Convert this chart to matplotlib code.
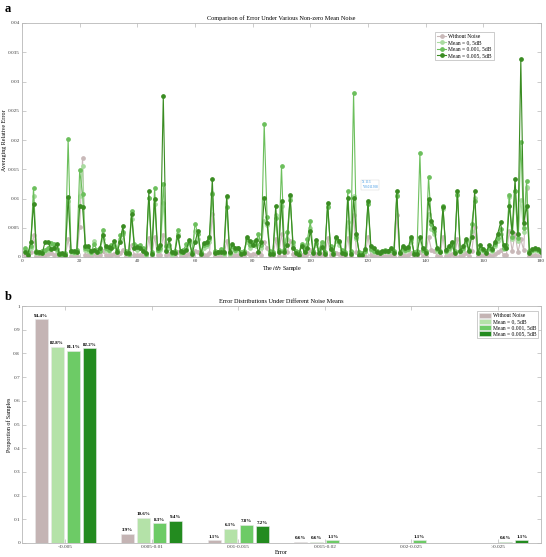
import numpy as np
import matplotlib.pyplot as plt

plt.rcParams['font.family'] = ['Liberation Serif', 'DejaVu Serif']

# ---------- panel a data (samples 1..180) ----------
sample = np.arange(1, 181)

err_clean = [
    0.0003, 0.0002, 0.0008, 0.0037, 0.0002, 0.0002, 0.0001, 0.0004, 0.0005, 0.0006,
    0.0004, 0.0005, 0.0001, 0.0001, 0.0001, 0.0030, 0.0002, 0.0002, 0.0002, 0.0052,
    0.0170, 0.0004, 0.0003, 0.0002, 0.0005, 0.0002, 0.0003, 0.0010, 0.0004, 0.0003,
    0.0004, 0.0005, 0.0002, 0.0006, 0.0012, 0.0002, 0.0001, 0.0020, 0.0004, 0.0003,
    0.0004, 0.0003, 0.0001, 0.0032, 0.0001, 0.0035, 0.0003, 0.0004, 0.0038, 0.0003,
    0.0005, 0.0001, 0.0002, 0.0008, 0.0002, 0.0002, 0.0004, 0.0005, 0.0001, 0.0010,
    0.0008, 0.0001, 0.0004, 0.0004, 0.0006, 0.0074, 0.0002, 0.0002, 0.0003, 0.0001,
    0.0028, 0.0001, 0.0004, 0.0003, 0.0003, 0.0001, 0.0002, 0.0006, 0.0004, 0.0005,
    0.0005, 0.0008, 0.0004, 0.0025, 0.0015, 0.0002, 0.0001, 0.0030, 0.0002, 0.0040,
    0.0002, 0.0008, 0.0028, 0.0005, 0.0002, 0.0001, 0.0004, 0.0002, 0.0005, 0.0012,
    0.0002, 0.0005, 0.0002, 0.0005, 0.0001, 0.0032, 0.0003, 0.0001, 0.0007, 0.0005,
    0.0002, 0.0001, 0.0033, 0.0002, 0.0072, 0.0008, 0.0001, 0.0001, 0.0002, 0.0035,
    0.0003, 0.0002, 0.0002, 0.0001, 0.0002, 0.0002, 0.0002, 0.0003, 0.0002, 0.0071,
    0.0001, 0.0003, 0.0002, 0.0003, 0.0006, 0.0001, 0.0002, 0.0008, 0.0002, 0.0002,
    0.0035, 0.0012, 0.0010, 0.0002, 0.0002, 0.0035, 0.0002, 0.0003, 0.0005, 0.0002,
    0.0030, 0.0002, 0.0003, 0.0006, 0.0002, 0.0010, 0.0051, 0.0001, 0.0004, 0.0002,
    0.0002, 0.0004, 0.0002, 0.0005, 0.0008, 0.0012, 0.0004, 0.0004, 0.0045, 0.0010,
    0.0040, 0.0008, 0.0030, 0.0012, 0.0118, 0.0002, 0.0002, 0.0003, 0.0002, 0.0002]

err_m0 = [
    0.0012, 0.0005, 0.0015, 0.0105, 0.0006, 0.0008, 0.0006, 0.0010, 0.0012, 0.0018,
    0.0015, 0.0010, 0.0004, 0.0005, 0.0003, 0.0095, 0.0008, 0.0006, 0.0008, 0.0105,
    0.0155, 0.0012, 0.0010, 0.0006, 0.0028, 0.0008, 0.0012, 0.0030, 0.0012, 0.0010,
    0.0015, 0.0022, 0.0008, 0.0030, 0.0040, 0.0006, 0.0004, 0.0065, 0.0016, 0.0012,
    0.0015, 0.0010, 0.0004, 0.0101, 0.0005, 0.0090, 0.0010, 0.0012, 0.0093, 0.0012,
    0.0015, 0.0004, 0.0008, 0.0040, 0.0006, 0.0008, 0.0016, 0.0022, 0.0006, 0.0045,
    0.0030, 0.0006, 0.0015, 0.0018, 0.0025, 0.0110, 0.0008, 0.0006, 0.0010, 0.0005,
    0.0102, 0.0005, 0.0015, 0.0010, 0.0012, 0.0006, 0.0008, 0.0025, 0.0016, 0.0020,
    0.0018, 0.0030, 0.0015, 0.0062, 0.0055, 0.0008, 0.0006, 0.0072, 0.0010, 0.0088,
    0.0010, 0.0030, 0.0102, 0.0020, 0.0008, 0.0006, 0.0018, 0.0010, 0.0022, 0.0050,
    0.0008, 0.0020, 0.0010, 0.0020, 0.0006, 0.0088, 0.0014, 0.0006, 0.0028, 0.0020,
    0.0010, 0.0006, 0.0060, 0.0008, 0.0104, 0.0030, 0.0006, 0.0005, 0.0008, 0.0092,
    0.0012, 0.0008, 0.0008, 0.0006, 0.0008, 0.0010, 0.0008, 0.0010, 0.0008, 0.0106,
    0.0006, 0.0012, 0.0010, 0.0012, 0.0025, 0.0006, 0.0008, 0.0030, 0.0010, 0.0008,
    0.0073, 0.0048, 0.0040, 0.0010, 0.0008, 0.0082, 0.0008, 0.0012, 0.0018, 0.0008,
    0.0108, 0.0008, 0.0012, 0.0022, 0.0010, 0.0045, 0.0101, 0.0006, 0.0014, 0.0010,
    0.0008, 0.0014, 0.0010, 0.0018, 0.0028, 0.0040, 0.0014, 0.0016, 0.0102, 0.0030,
    0.0112, 0.0028, 0.0098, 0.0042, 0.0120, 0.0008, 0.0010, 0.0012, 0.0010, 0.0008]

err_m001 = [
    0.0015, 0.0008, 0.0018, 0.0118, 0.0010, 0.0007, 0.0010, 0.0012, 0.0015, 0.0024,
    0.0023, 0.0014, 0.0006, 0.0004, 0.0006, 0.0202, 0.0010, 0.0009, 0.0012, 0.0148,
    0.0108, 0.0015, 0.0013, 0.0008, 0.0022, 0.0012, 0.0010, 0.0047, 0.0015, 0.0012,
    0.0021, 0.0018, 0.0012, 0.0037, 0.0043, 0.0010, 0.0005, 0.0078, 0.0022, 0.0018,
    0.0020, 0.0015, 0.0005, 0.0101, 0.0008, 0.0118, 0.0012, 0.0015, 0.0125, 0.0018,
    0.0020, 0.0006, 0.0010, 0.0047, 0.0008, 0.0012, 0.0022, 0.0026, 0.0008, 0.0057,
    0.0040, 0.0008, 0.0020, 0.0022, 0.0030, 0.0108, 0.0010, 0.0009, 0.0013, 0.0006,
    0.0085, 0.0006, 0.0019, 0.0012, 0.0016, 0.0008, 0.0010, 0.0030, 0.0020, 0.0026,
    0.0022, 0.0040, 0.0020, 0.0228, 0.0068, 0.0010, 0.0008, 0.0066, 0.0012, 0.0155,
    0.0012, 0.0043, 0.0098, 0.0025, 0.0010, 0.0008, 0.0022, 0.0012, 0.0030, 0.0061,
    0.0010, 0.0024, 0.0012, 0.0026, 0.0008, 0.0086, 0.0018, 0.0008, 0.0032, 0.0025,
    0.0012, 0.0008, 0.0113, 0.0010, 0.0280, 0.0035, 0.0008, 0.0006, 0.0010, 0.0090,
    0.0014, 0.0010, 0.0010, 0.0008, 0.0009, 0.0012, 0.0010, 0.0012, 0.0010, 0.0104,
    0.0008, 0.0015, 0.0012, 0.0014, 0.0030, 0.0008, 0.0010, 0.0177, 0.0012, 0.0010,
    0.0137, 0.0056, 0.0045, 0.0013, 0.0010, 0.0087, 0.0010, 0.0015, 0.0022, 0.0010,
    0.0106, 0.0010, 0.0015, 0.0027, 0.0012, 0.0057, 0.0096, 0.0008, 0.0016, 0.0012,
    0.0010, 0.0016, 0.0012, 0.0022, 0.0033, 0.0048, 0.0016, 0.0020, 0.0106, 0.0035,
    0.0113, 0.0032, 0.0197, 0.0050, 0.0130, 0.0010, 0.0012, 0.0014, 0.0012, 0.0010]

err_m005 = [
    0.0008, 0.0004, 0.0025, 0.0091, 0.0009, 0.0009, 0.0006, 0.0026, 0.0026, 0.0014,
    0.0015, 0.0023, 0.0005, 0.0006, 0.0004, 0.0103, 0.0011, 0.0011, 0.0009, 0.0087,
    0.0085, 0.0018, 0.0018, 0.0010, 0.0012, 0.0008, 0.0015, 0.0038, 0.0019, 0.0017,
    0.0015, 0.0028, 0.0008, 0.0026, 0.0053, 0.0006, 0.0007, 0.0073, 0.0015, 0.0017,
    0.0016, 0.0011, 0.0007, 0.0112, 0.0005, 0.0100, 0.0015, 0.0021, 0.0275, 0.0010,
    0.0030, 0.0008, 0.0007, 0.0036, 0.0010, 0.0008, 0.0012, 0.0029, 0.0005, 0.0025,
    0.0044, 0.0005, 0.0024, 0.0025, 0.0035, 0.0133, 0.0007, 0.0008, 0.0009, 0.0008,
    0.0105, 0.0008, 0.0023, 0.0015, 0.0015, 0.0005, 0.0006, 0.0035, 0.0027, 0.0020,
    0.0029, 0.0008, 0.0025, 0.0101, 0.0058, 0.0005, 0.0005, 0.0088, 0.0008, 0.0096,
    0.0008, 0.0021, 0.0106, 0.0015, 0.0007, 0.0004, 0.0019, 0.0008, 0.0015, 0.0045,
    0.0006, 0.0029, 0.0006, 0.0017, 0.0005, 0.0093, 0.0014, 0.0005, 0.0035, 0.0028,
    0.0007, 0.0005, 0.0101, 0.0005, 0.0101, 0.0039, 0.0004, 0.0004, 0.0014, 0.0096,
    0.0019, 0.0015, 0.0008, 0.0007, 0.0011, 0.0010, 0.0011, 0.0015, 0.0007, 0.0113,
    0.0006, 0.0018, 0.0015, 0.0017, 0.0035, 0.0005, 0.0005, 0.0035, 0.0015, 0.0007,
    0.0100, 0.0062, 0.0050, 0.0016, 0.0009, 0.0085, 0.0012, 0.0018, 0.0026, 0.0007,
    0.0113, 0.0011, 0.0018, 0.0030, 0.0011, 0.0035, 0.0113, 0.0006, 0.0020, 0.0014,
    0.0007, 0.0020, 0.0014, 0.0026, 0.0040, 0.0059, 0.0020, 0.0016, 0.0088, 0.0043,
    0.0134, 0.0039, 0.0338, 0.0058, 0.0088, 0.0007, 0.0013, 0.0015, 0.0013, 0.0009]

# ---------- panel b data ----------
bins = ['<0.005', '0.005-0.01', '0.01-0.015', '0.015-0.02', '0.02-0.025', '>0.025']
pct_clean = [94.4, 3.9, 1.1, 0.6, 0.0, 0.0]
pct_m0 = [82.8, 10.6, 6.1, 0.6, 0.0, 0.0]
pct_m001 = [81.1, 8.3, 7.8, 1.1, 1.1, 0.6]
pct_m005 = [82.2, 9.4, 7.2, 0.0, 0.0, 1.1]

names = ['Without Noise', 'Mean = 0, 5dB', 'Mean = 0.001, 5dB', 'Mean = 0.005, 5dB']
line_cols = ['#c9b9b9', '#a9dba0', '#6cbf5c', '#3a8c22']
bar_cols = ['#c4b4b4', '#b4e2a8', '#6dcb66', '#238b1f']

spine_col = '#b8b8b8'
tick_col = '#404040'


def style_axes(ax):
    for s in ax.spines.values():
        s.set_color(spine_col)
        s.set_linewidth(0.6)
    ax.tick_params(direction='in', length=3, width=0.5, color=spine_col,
                   labelsize=3.8, labelcolor=tick_col, top=True, right=True, pad=1.5)


fig = plt.figure(figsize=(5.46, 5.57), dpi=100)

# ---------- panel a ----------
ax1 = fig.add_axes([22 / 546, 1 - 257 / 557, 519 / 546, 234 / 557])
for ys, c, n in zip([err_clean, err_m0, err_m001, err_m005], line_cols, names):
    ax1.plot(sample, ys, '-o', color=c, lw=0.8, ms=2.4, mec=c, mfc=c, label=n)
ax1.set_xlim(0, 180)
ax1.set_ylim(0, 0.04)
ax1.set_xticks(np.arange(0, 181, 20))
ax1.set_yticks(np.arange(0, 0.0401, 0.005))
ax1.set_yticklabels(['0', '0.005', '0.01', '0.015', '0.02', '0.025', '0.03', '0.035', '0.04'])
style_axes(ax1)
ax1.set_title('Comparison of Error Under Various Non-zero Mean Noise', fontsize=4.5, pad=2)
ax1.set_xlabel('The $ith$ Sample', fontsize=4.3, labelpad=0.5)
ax1.set_ylabel('Averaging Relative Error', fontsize=4.3, labelpad=0.5)
leg1 = ax1.legend(loc='upper right', bbox_to_anchor=(0.915, 0.975), fontsize=4,
                  fancybox=False, framealpha=1, edgecolor=spine_col,
                  handlelength=1.6, borderpad=0.4, labelspacing=0.25, handletextpad=0.4)
leg1.get_frame().set_linewidth(0.5)
ax1.text(118, 0.0118, 'X 113\nY 0.011308', fontsize=2.4, color='#2f8fe0',
         bbox=dict(facecolor='white', edgecolor='#d0d0d0', lw=0.3, pad=0.6))

# ---------- panel b ----------
ax2 = fig.add_axes([22 / 546, 1 - 543 / 557, 519 / 546, 237 / 557])
x = np.arange(1, len(bins) + 1)
step = 0.185
width = 0.15
for k, (vals, c, n) in enumerate(zip([pct_clean, pct_m0, pct_m001, pct_m005], bar_cols, names)):
    frac = np.array(vals) / 100
    pos = x + (k - 1.5) * step
    ax2.bar(pos, frac, width, color=c, edgecolor='#e8e8e8', lw=0.4, label=n)
    for p, v in zip(pos, vals):
        if v > 0:
            ax2.text(p, v / 100 + 0.006, f'{v:.1f}%', ha='center', va='bottom',
                     fontsize=3.6, fontweight='bold')
ax2.set_xlim(0.5, 6.5)
ax2.set_ylim(0, 1)
ax2.set_xticks(x)
ax2.set_xticklabels(bins)
ax2.set_yticks(np.arange(0, 1.01, 0.1))
ax2.set_yticklabels(['0', '0.1', '0.2', '0.3', '0.4', '0.5', '0.6', '0.7', '0.8', '0.9', '1'])
style_axes(ax2)
ax2.set_title('Error Distributions Under Different Noise Means', fontsize=4.5, pad=2)
ax2.set_xlabel('Error', fontsize=4.3, labelpad=0.5)
ax2.set_ylabel('Proportion of Samples', fontsize=4.3, labelpad=0.5)
leg2 = ax2.legend(loc='upper right', bbox_to_anchor=(1.0, 0.99), fontsize=4,
                  fancybox=False, framealpha=1, edgecolor=spine_col,
                  handlelength=2.2, handleheight=1.0, borderpad=0.3,
                  labelspacing=0.1, handletextpad=0.4)
leg2.get_frame().set_linewidth(0.5)

fig.text(5 / 546, 1 - 9 / 557, 'a', fontsize=9, fontweight='bold', va='center')
fig.text(5 / 546, 1 - 297 / 557, 'b', fontsize=9, fontweight='bold', va='center')

fig.savefig('out.png', dpi=100)
